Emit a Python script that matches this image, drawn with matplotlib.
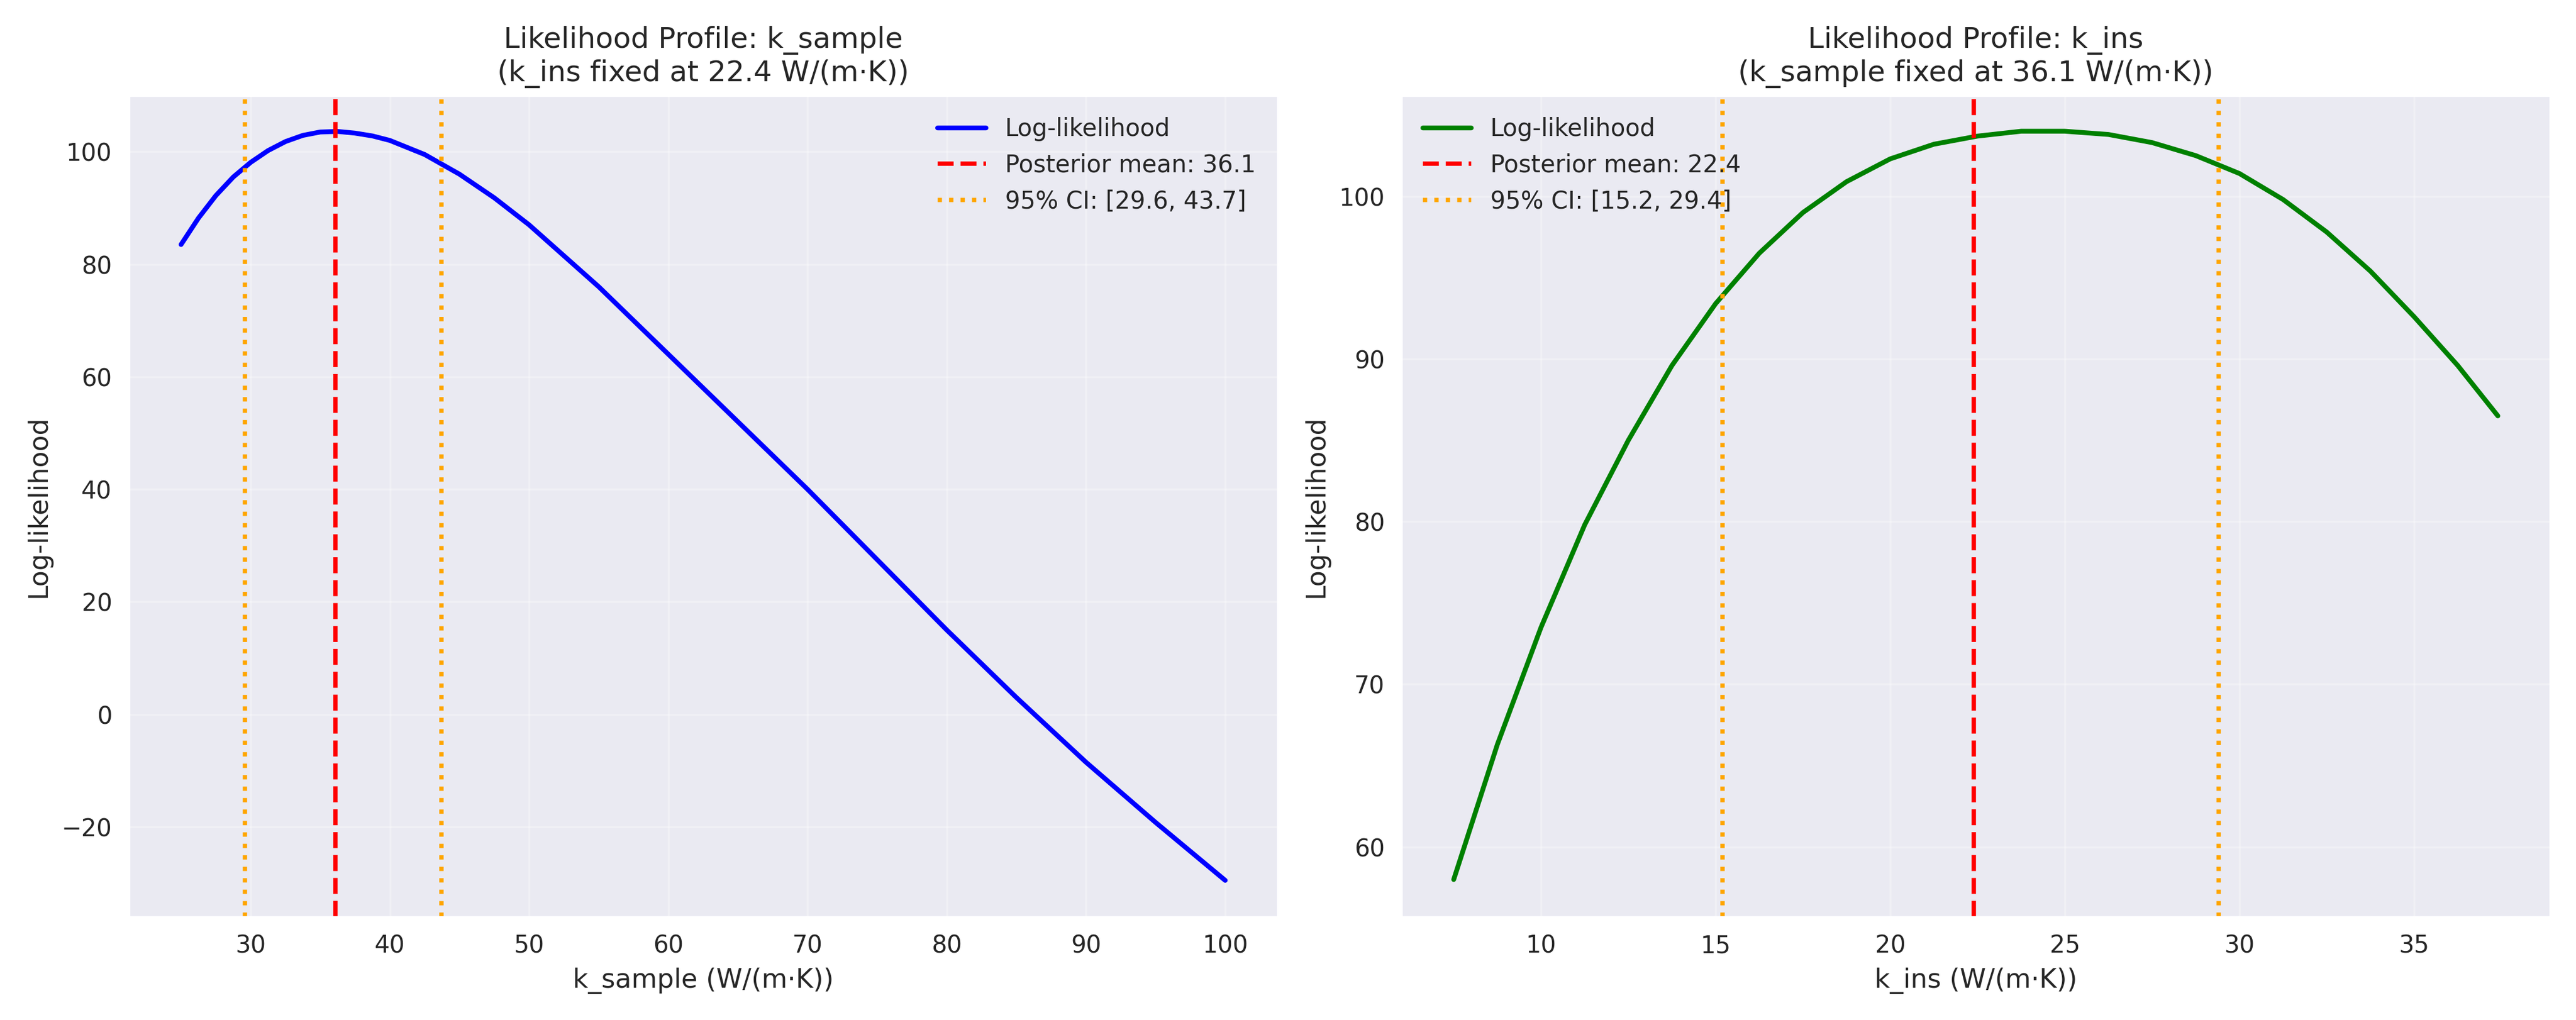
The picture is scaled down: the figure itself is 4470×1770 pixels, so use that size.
import matplotlib
matplotlib.use("Agg")
import matplotlib.pyplot as plt
import seaborn as sns
sns.set_style("darkgrid")

ks_x = [25, 26.25, 27.5, 28.75, 30, 31.25, 32.5, 33.75, 35, 36.25, 37.5, 38.75, 40, 42.5, 45, 47.5, 50, 55, 60, 65, 70, 75, 80, 85, 90, 95, 100]
ks_y = [83.5, 88.2, 92.2, 95.5, 98.1, 100.2, 101.8, 102.9, 103.5, 103.6, 103.3, 102.8, 102.0, 99.5, 96.0, 91.8, 87.0, 76.0, 64.0, 52.0, 40.0, 27.5, 15.0, 3.0, -8.5, -19.2, -29.5]
ki_x = [7.5, 8.75, 10, 11.25, 12.5, 13.75, 15, 16.25, 17.5, 18.75, 20, 21.25, 22.5, 23.75, 25, 26.25, 27.5, 28.75, 30, 31.25, 32.5, 33.75, 35, 36.25, 37.4]
ki_y = [58.0, 66.3, 73.5, 79.8, 85.0, 89.6, 93.4, 96.5, 99.0, 100.9, 102.3, 103.2, 103.7, 104.0, 104.0, 103.8, 103.3, 102.5, 101.4, 99.8, 97.8, 95.4, 92.6, 89.6, 86.5]
ks_mean, ks_ci = 36.1, (29.6, 43.7)
ki_mean, ki_ci = 22.4, (15.2, 29.4)

fig, axes = plt.subplots(1, 2, figsize=(14.9, 5.9), dpi=300)
panels = [
    (axes[0], ks_x, ks_y, "blue", ks_mean, ks_ci, "Likelihood Profile: k_sample\n(k_ins fixed at 22.4 W/(m·K))", "k_sample (W/(m·K))", (-36, 110)),
    (axes[1], ki_x, ki_y, "green", ki_mean, ki_ci, "Likelihood Profile: k_ins\n(k_sample fixed at 36.1 W/(m·K))", "k_ins (W/(m·K))", (55.7, 106.2)),
]
for ax, x, y, c, m, ci, title, xl, yl in panels:
    ax.plot(x, y, color=c, lw=2, label="Log-likelihood")
    ax.axvline(m, color="red", ls="--", lw=1.8, label=f"Posterior mean: {m}")
    ax.axvline(ci[0], color="orange", ls=":", lw=1.8, label=f"95% CI: [{ci[0]}, {ci[1]}]")
    ax.axvline(ci[1], color="orange", ls=":", lw=1.8)
    ax.set_title(title, fontsize=12)
    ax.set_xlabel(xl, fontsize=11)
    ax.set_ylabel("Log-likelihood", fontsize=11)
    ax.set_ylim(*yl)
    ax.grid(True, alpha=0.3)
    ax.legend(frameon=False, loc="upper right" if ax is axes[0] else "upper left")
plt.tight_layout()
plt.savefig("out.png", dpi=300)
